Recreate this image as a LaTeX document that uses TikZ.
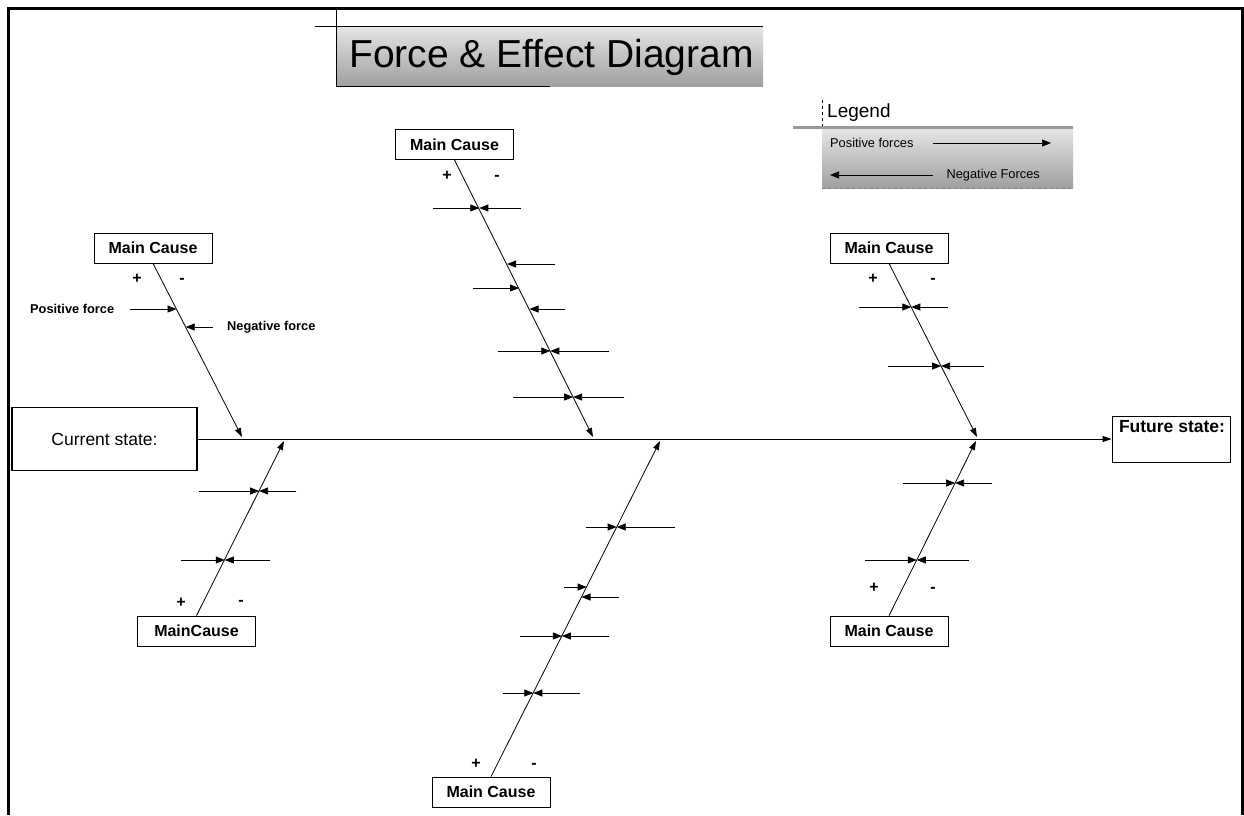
\documentclass[tikz,border=0pt]{standalone}
\usepackage{fontspec}
\setmainfont{Liberation Sans}
\usetikzlibrary{arrows.meta}

\begin{document}
\begin{tikzpicture}[x=1pt,y=-1pt,
        cause/.style={draw, fill=white, line width=0.8pt, minimum width=118pt, minimum height=30pt, inner sep=0pt, font=\bfseries\fontsize{16}{18}\selectfont},
        sign/.style={inner sep=0pt, anchor=base, font=\bfseries\fontsize{16}{18}\selectfont},
        bone/.style={line width=0.8pt, -{Triangle[length=9pt,width=6pt]}},
        force/.style={line width=0.8pt, -{Triangle[length=9pt,width=7pt]}},
        note/.style={inner sep=0pt, font=\bfseries\fontsize{12.8}{15}\selectfont},
        keytext/.style={inner sep=0pt, font=\fontsize{12.8}{15}\selectfont}]
        \useasboundingbox (0,0) rectangle (1244,815);
        \draw [black, line width=2.8pt] (8.3,815) -- (8.3,8.3) -- (1242.5,8.3) -- (1242.5,815);
        \shade [top color=gray!20, bottom color=gray!75] (336,26) rectangle (763,86);
        \draw [black] (315,26) -- (763,26);
        \draw [black] (336,9) -- (336,86) -- (550,86);
        \node (title) [anchor=base west, inner sep=0pt, font=\fontsize{39}{44}\selectfont] at (349,67) {Force \& Effect Diagram};
        \draw [black, dashed] (822,100) -- (822,128);
        \node (legend) [anchor=west, inner sep=0pt, font=\fontsize{19}{22}\selectfont] at (827,113) {Legend};
        \shade [top color=gray!20, bottom color=gray!75] (822,128) rectangle (1073,188);
        \draw [gray!80, line width=3pt] (793,127) -- (1073,127);
        \draw [gray, dashed, line width=0.6pt] (822,188) -- (1073,188);
        \node (lpos) [keytext, anchor=west] at (830,143) {Positive forces};
        \node (lneg) [keytext, anchor=east] at (1040,175) {Negative Forces};
        \coordinate (lp) at (1051,143);
        \coordinate (ln) at (830,175);
        \draw [force, line width=0.7pt] ([xshift=-118pt]lp) -- (lp);
        \draw [force, line width=0.7pt] ([xshift=103pt]ln) -- (ln);
        \node (cs) [draw, line width=1.6pt, minimum width=185pt, minimum height=63pt, inner sep=0pt, font=\fontsize{17.5}{20}\selectfont] at (104.5,439) {Current state:};
        \node (fs) [draw, line width=0.8pt, minimum width=118pt, minimum height=46pt, inner sep=0pt] at (1171,439) {};
        \node (fstext) [anchor=north, inner sep=0pt, font=\bfseries\fontsize{17.5}{20}\selectfont] at (1172,420) {Future state:};
        \draw [bone, line width=1pt] (cs.east) -- (fs.west);
        \node (c1) [cause] at (153,248) {Main Cause};
        \node (c2) [cause] at (454.5,144.5) {Main Cause};
        \node (c3) [cause] at (889,248) {Main Cause};
        \node (c4) [cause] at (196.5,631) {MainCause};
        \node (c5) [cause] at (491,792) {Main Cause};
        \node (c6) [cause] at (889,631) {Main Cause};
        \coordinate (t1) at (242,437);
        \coordinate (t2) at (593,437);
        \coordinate (t3) at (977,437);
        \coordinate (t4) at (284,441);
        \coordinate (t5) at (660,441);
        \coordinate (t6) at (976,441);
        \draw [bone] (c1.south) -- (t1);
        \draw [bone] (c2.south) -- (t2);
        \draw [bone] (c3.south) -- (t3);
        \draw [bone] (c4.north) -- (t4);
        \draw [bone] (c5.north) -- (t5);
        \draw [bone] (c6.north) -- (t6);
        \node (p1) [sign] at (137,283.5) {+};
        \node (m1) [sign] at (182,283.5) {-};
        \node (p2) [sign] at (447,180.5) {+};
        \node (m2) [sign] at (497,180.5) {-};
        \node (p3) [sign] at (873,283.5) {+};
        \node (m3) [sign] at (933,283.5) {-};
        \node (p4) [sign] at (181,607.5) {+};
        \node (m4) [sign] at (241,605.5) {-};
        \node (p5) [sign] at (476,768.5) {+};
        \node (m5) [sign] at (534,768.5) {-};
        \node (p6) [sign] at (874,592.5) {+};
        \node (m6) [sign] at (933,592.5) {-};
        \coordinate (f1a) at (176.5,309);
        \coordinate (f1b) at (185.7,327);
        \node (posf) [note, anchor=west] at (30,309) {Positive force};
        \node (negf) [note, anchor=west] at (227,327) {Negative force};
        \draw [force] ([xshift=-46.5pt]f1a) -- (f1a);
        \draw [force] ([xshift=27.3pt]f1b) -- (f1b);
        \coordinate (f2a) at (479.3,208);
        \coordinate (f2b) at (507.1,264);
        \coordinate (f2c) at (519,288);
        \coordinate (f2d) at (529.5,309);
        \coordinate (f2e) at (550.3,351);
        \coordinate (f2f) at (573.1,397);
        \draw [force] ([xshift=-46.3pt]f2a) -- (f2a);
        \draw [force] ([xshift=41.7pt]f2a) -- (f2a);
        \draw [force] ([xshift=47.9pt]f2b) -- (f2b);
        \draw [force] ([xshift=-46pt]f2c) -- (f2c);
        \draw [force] ([xshift=35.5pt]f2d) -- (f2d);
        \draw [force] ([xshift=-52.3pt]f2e) -- (f2e);
        \draw [force] ([xshift=58.7pt]f2e) -- (f2e);
        \draw [force] ([xshift=-60.1pt]f2f) -- (f2f);
        \draw [force] ([xshift=50.9pt]f2f) -- (f2f);
        \coordinate (f3a) at (911.3,307);
        \coordinate (f3b) at (941.1,366);
        \draw [force] ([xshift=-52.3pt]f3a) -- (f3a);
        \draw [force] ([xshift=36.7pt]f3a) -- (f3a);
        \draw [force] ([xshift=-53.1pt]f3b) -- (f3b);
        \draw [force] ([xshift=42.9pt]f3b) -- (f3b);
        \coordinate (f4a) at (259.1,491);
        \coordinate (f4b) at (224.8,560);
        \draw [force] ([xshift=-60pt]f4a) -- (f4a);
        \draw [force] ([xshift=37pt]f4a) -- (f4a);
        \draw [force] ([xshift=-43.8pt]f4b) -- (f4b);
        \draw [force] ([xshift=45.2pt]f4b) -- (f4b);
        \coordinate (f5a) at (616.7,527);
        \coordinate (f5b) at (586.6,587);
        \coordinate (f5c) at (581.5,597);
        \coordinate (f5d) at (561.9,636);
        \coordinate (f5e) at (533.3,693);
        \draw [force] ([xshift=-30.7pt]f5a) -- (f5a);
        \draw [force] ([xshift=58.3pt]f5a) -- (f5a);
        \draw [force] ([xshift=-22.6pt]f5b) -- (f5b);
        \draw [force] ([xshift=37.5pt]f5c) -- (f5c);
        \draw [force] ([xshift=-41.9pt]f5d) -- (f5d);
        \draw [force] ([xshift=47.1pt]f5d) -- (f5d);
        \draw [force] ([xshift=-30.3pt]f5e) -- (f5e);
        \draw [force] ([xshift=46.7pt]f5e) -- (f5e);
        \coordinate (f6a) at (955.1,483);
        \coordinate (f6b) at (916.8,560);
        \draw [force] ([xshift=-52.1pt]f6a) -- (f6a);
        \draw [force] ([xshift=36.9pt]f6a) -- (f6a);
        \draw [force] ([xshift=-51.8pt]f6b) -- (f6b);
        \draw [force] ([xshift=52.2pt]f6b) -- (f6b);
\end{tikzpicture}
\end{document}
